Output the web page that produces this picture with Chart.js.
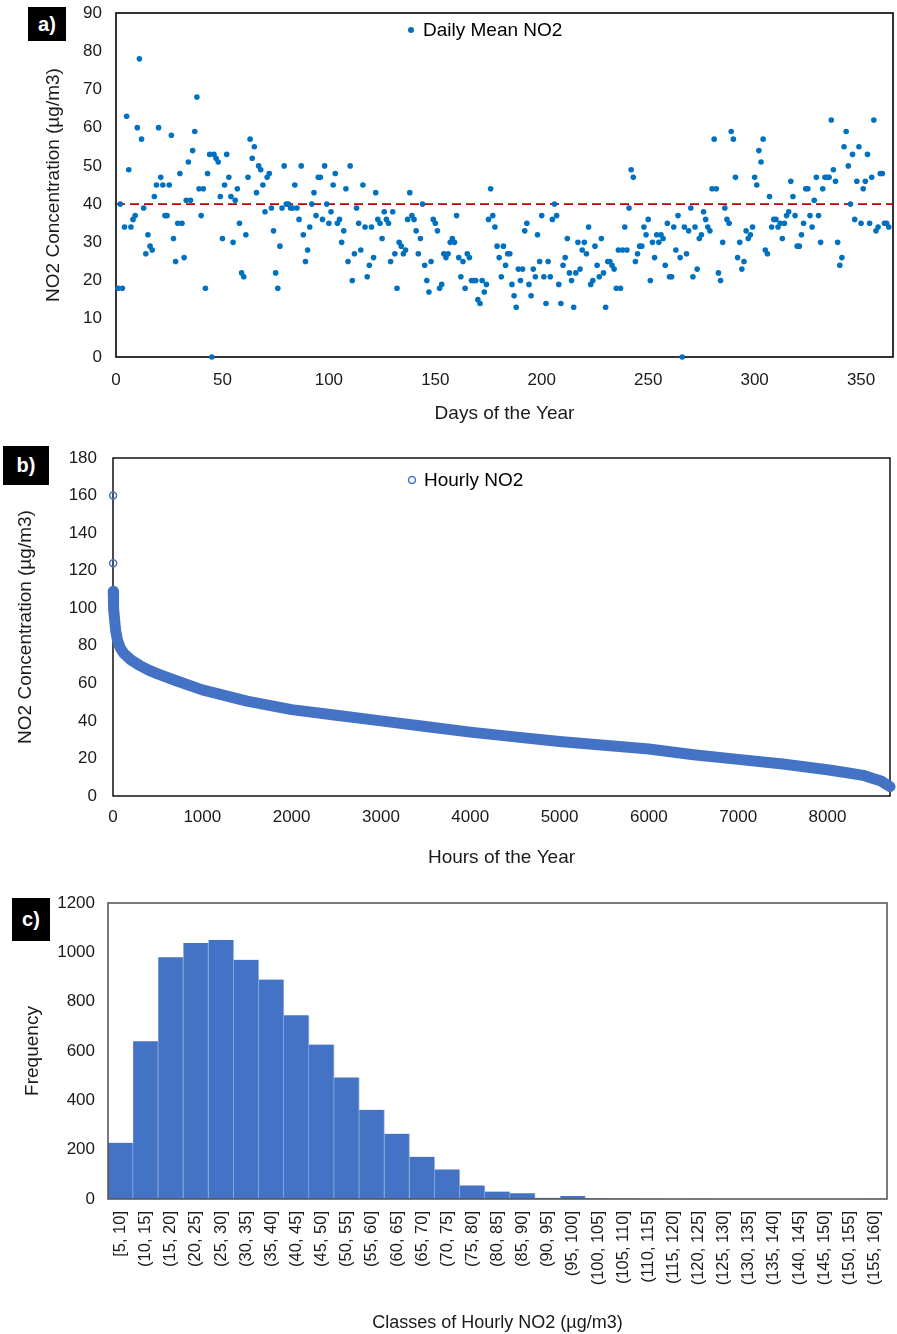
<!DOCTYPE html>
<html>
<head>
<meta charset="utf-8">
<script src="https://cdn.jsdelivr.net/npm/chart.js@4.4.0/dist/chart.umd.min.js"></script>
<style>
  html, body { margin: 0; padding: 0; background: #fff; }
  body { width: 897px; height: 1334px; position: relative; overflow: hidden; }
  .panel { position: absolute; left: 0; width: 897px; }
  .tag { position: absolute; background: #000; color: #fff; font: bold 20px 'Liberation Sans', Arial, sans-serif;
         display: flex; align-items: center; justify-content: center; }
</style>
</head>
<body>
<div class="panel" style="top:0;height:425px"><canvas id="chart-daily" width="897" height="425"></canvas></div>
<div class="panel" style="top:440px;height:429px"><canvas id="chart-hourly" width="897" height="429"></canvas></div>
<div class="panel" style="top:880px;height:454px"><canvas id="chart-hist" width="897" height="454"></canvas></div>
<div class="tag" style="left:28px;top:7px;width:38px;height:34px">a)</div>
<div class="tag" style="left:3px;top:446px;width:46px;height:39px">b)</div>
<div class="tag" style="left:12px;top:898px;width:38px;height:43px">c)</div>

<script>
// a) daily means, one value per day of the year
const dailyMeanNO2 = [
  18, 40, 18, 34, 63, 49, 34, 36, 37, 60, 78, 57, 39, 27, 32, 29, 28, 42, 45, 60,
  47, 45, 37, 37, 45, 58, 31, 25, 35, 48, 35, 26, 41, 51, 41, 54, 59, 68, 44, 37,
  44, 18, 48, 53, 0, 53, 52, 51, 42, 31, 45, 53, 47, 42, 30, 41, 44, 35, 22,
  21, 32, 47, 57, 52, 55, 43, 50, 49, 45, 38, 47, 48, 39, 33, 22, 18, 29, 39, 50,
  40, 40, 39, 39, 45, 39, 36, 50, 32, 25, 28, 34, 40, 43, 37, 47, 47, 36, 50, 40,
  35, 38, 45, 48, 35, 36, 30, 33, 44, 25, 50, 20, 27, 39, 35, 28, 45, 34, 21, 24,
  34, 26, 43,
  36, 35, 31, 38, 36, 35, 25, 38, 27, 18, 30, 29, 27, 28, 36, 43, 37, 36, 33, 27,
  31, 40, 24, 20, 17, 25, 36, 35, 33, 18, 19, 27, 26, 27, 30, 31, 30, 37, 26, 21,
  25, 18, 27, 26, 20, 20, 20, 15, 14, 20, 17, 19, 36, 44, 37, 34, 29, 26, 21,
  29, 24, 27, 27, 19, 16, 13, 23, 20, 23, 33, 35, 19, 16, 23, 21, 32, 25, 37, 21,
  14, 25, 21, 36, 40, 37, 19, 14, 24, 26, 31, 22, 20, 13, 22, 30, 23, 28, 30, 27,
  34, 19, 20, 29, 24, 21, 31, 22, 13, 25, 25, 24, 23, 18, 28, 18, 28, 34, 28, 39,
  49, 47,
  25, 27, 29, 29, 34, 32, 36, 20, 30, 26, 32, 30, 32, 31, 24, 35, 21, 21, 34, 28,
  37, 26, 0, 34, 27, 33, 39, 21, 34, 23, 31, 32, 38, 36, 34, 33, 44, 57, 44, 22,
  20, 30, 39, 36, 35, 59, 57, 47, 26, 30, 23, 25, 33, 31, 32, 34, 47, 45, 54, 51,
  57,
  28, 27, 42, 34, 36, 36, 34, 35, 31, 35, 37, 38, 46, 42, 37, 29, 29, 32, 35, 44,
  44, 37, 34, 41, 47, 37, 30, 44, 47, 47, 47, 62, 49, 46, 30, 24, 26, 55, 59, 50,
  40, 53, 36, 46, 55, 35, 44, 46, 53, 35, 47, 62, 33, 34, 48, 48, 35, 35, 34
];
const dayRange = [0, 365];
const dayTicks = [0, 50, 100, 150, 200, 250, 300, 350];
const limitValue = 40;

// b) hourly values sorted high to low (duration curve)
const hourIndex = [1, 2, 3, 4, 5, 10, 20, 30, 50, 80, 120, 200, 300, 400, 500, 700, 1000,
  1500, 2000, 2500, 3000, 3500, 4000, 4500, 5000, 5500, 6000, 6500, 7000, 7500, 8000,
  8200, 8400, 8500, 8600, 8650, 8700];
const hourlyNO2 = [160, 124, 109, 107, 105, 100, 93, 88, 83, 79, 76, 72.5, 69.5, 67, 65, 61.5, 56.5,
  50.5, 46, 43, 40, 37, 34, 31.5, 29, 27, 25, 22, 19.5, 17, 14,
  12.5, 11, 9.5, 8, 6.5, 5];
const hourRange = [0, 8700];
const hourTicks = [0, 1000, 2000, 3000, 4000, 5000, 6000, 7000, 8000];

// c) frequency of hourly values per class
const classLabels = ['[5, 10]', '(10, 15]', '(15, 20]', '(20, 25]', '(25, 30]', '(30, 35]', '(35, 40]',
  '(40, 45]', '(45, 50]', '(50, 55]', '(55, 60]', '(60, 65]', '(65, 70]', '(70, 75]', '(75, 80]',
  '(80, 85]', '(85, 90]', '(90, 95]', '(95, 100]', '(100, 105]', '(105, 110]', '(110, 115]',
  '(115, 120]', '(120, 125]', '(125, 130]', '(130, 135]', '(135, 140]', '(140, 145]',
  '(145, 150]', '(150, 155]', '(155, 160]'];
const classFrequency = [228, 640, 980, 1038, 1050, 970, 890, 745, 626, 493, 362, 265, 171, 120, 55,
  30, 23, 5, 12, 3, 2, 1, 0, 1, 0, 0, 0, 0, 0, 0, 1];

Chart.defaults.font.family = "'Liberation Sans', Arial, sans-serif";
Chart.defaults.color = '#1a1a1a';

const framePlugin = {
  id: 'frame',
  beforeDatasetsDraw(chart, args, opts) {
    if (!opts.onTop) drawFrame(chart, opts);
  },
  afterDatasetsDraw(chart, args, opts) {
    if (opts.onTop) drawFrame(chart, opts);
  }
};

function drawFrame(chart, opts) {
  const { ctx, chartArea: a } = chart;
  ctx.save();
  ctx.strokeStyle = opts.color;
  ctx.lineWidth = opts.width;
  ctx.strokeRect(a.left, a.top, a.right - a.left, a.bottom - a.top);
  ctx.restore();
}

// legend entry for the first dataset, drawn inside the plot like Excel does
const insideLegend = {
  id: 'insideLegend',
  afterDatasetsDraw(chart, args, opts) {
    if (!opts.x) return;
    const ds = chart.data.datasets[0];
    const ctx = chart.ctx;
    ctx.save();
    ctx.beginPath();
    ctx.arc(opts.x, opts.y, opts.radius, 0, Math.PI * 2);
    if (opts.open) {
      ctx.lineWidth = 1.5;
      ctx.strokeStyle = ds.pointBorderColor;
      ctx.stroke();
    } else {
      ctx.fillStyle = ds.backgroundColor;
      ctx.fill();
    }
    ctx.fillStyle = '#000';
    ctx.font = "19px 'Liberation Sans', Arial, sans-serif";
    ctx.textBaseline = 'middle';
    ctx.fillText(ds.label, opts.x + 12, opts.y + 1);
    ctx.restore();
  }
};

const noGrid = { display: false, drawTicks: false };
const plainNumber = v => String(v);

// pin the plot area: no extra room for overhanging tick labels
function fixWidth(w) {
  return s => { s.width = w; s.paddingTop = 0; s.paddingBottom = 0; };
}
function fixHeight(h) {
  return s => { s.height = h; s.paddingLeft = 0; s.paddingRight = 0; };
}

function createDailyChart() {
  const ctx = document.getElementById('chart-daily');
  new Chart(ctx, {
    type: 'scatter',
    data: {
      datasets: [{
        label: 'Daily Mean NO2',
        data: dailyMeanNO2.map((v, i) => ({ x: i + 1, y: v })),
        backgroundColor: '#0070C0',
        borderColor: '#0070C0',
        pointRadius: 2.8,
        pointBorderWidth: 0,
        clip: false
      }, {
        label: 'limit',
        data: dayRange.map(d => ({ x: d, y: limitValue })),
        showLine: true,
        borderColor: '#C00000',
        borderWidth: 1.6,
        borderDash: [9, 5],
        pointRadius: 0
      }]
    },
    options: {
      responsive: false,
      animation: false,
      layout: { padding: { left: 38, top: 13, right: 4, bottom: 0 } },
      scales: {
        x: {
          type: 'linear', min: dayRange[0], max: dayRange[1],
          afterBuildTicks: s => { s.ticks = dayTicks.map(v => ({ value: v })); },
          afterFit: fixHeight(68),
          grid: noGrid, border: { display: false },
          ticks: { padding: 13, font: { size: 17 }, callback: plainNumber },
          title: { display: true, text: 'Days of the Year', font: { size: 19 }, color: '#1a1a1a', padding: { top: 4, bottom: 0 } }
        },
        y: {
          min: 0, max: 90,
          afterFit: fixWidth(78),
          grid: noGrid, border: { display: false },
          ticks: { stepSize: 10, padding: 14, font: { size: 17 }, callback: plainNumber },
          title: { display: true, text: 'NO2 Concentration (µg/m3)', font: { size: 19 }, color: '#1a1a1a', padding: { top: 4, bottom: 0 } }
        }
      },
      plugins: {
        legend: { display: false },
        tooltip: { enabled: false },
        frame: { color: '#000', width: 1.6 },
        insideLegend: { x: 411, y: 30, radius: 3, open: false }
      }
    },
    plugins: [framePlugin, insideLegend]
  });
}

function createHourlyChart() {
  const ctx = document.getElementById('chart-hourly');
  const points = hourIndex.map((h, i) => ({ x: h, y: hourlyNO2[i] }));
  new Chart(ctx, {
    type: 'scatter',
    data: {
      datasets: [{
        label: 'Hourly NO2',
        data: points,
        pointRadius: 3.5,
        pointBorderWidth: 1.5,
        pointBackgroundColor: 'rgba(0,0,0,0)',
        pointBorderColor: '#4472C4',
        clip: false
      }, {
        label: 'band',
        data: points.slice(2),
        showLine: true,
        borderColor: '#4472C4',
        borderWidth: 11,
        borderCapStyle: 'round',
        borderJoinStyle: 'round',
        pointRadius: 0,
        clip: false
      }]
    },
    options: {
      responsive: false,
      animation: false,
      layout: { padding: { left: 10, top: 18, right: 7, bottom: 0 } },
      scales: {
        x: {
          type: 'linear', min: hourRange[0], max: hourRange[1],
          afterBuildTicks: s => { s.ticks = hourTicks.map(v => ({ value: v })); },
          afterFit: fixHeight(73),
          grid: noGrid, border: { display: false },
          ticks: { padding: 11, font: { size: 17 }, callback: plainNumber },
          title: { display: true, text: 'Hours of the Year', font: { size: 19 }, color: '#1a1a1a', padding: { top: 4, bottom: 0 } }
        },
        y: {
          min: 0, max: 180,
          afterFit: fixWidth(103),
          grid: noGrid, border: { display: false },
          ticks: { stepSize: 20, padding: 16, font: { size: 17 }, callback: plainNumber },
          title: { display: true, text: 'NO2 Concentration (µg/m3)', font: { size: 19 }, color: '#1a1a1a', padding: { top: 4, bottom: 0 } }
        }
      },
      plugins: {
        legend: { display: false },
        tooltip: { enabled: false },
        frame: { color: '#000', width: 1.4 },
        insideLegend: { x: 412, y: 40, radius: 3.5, open: true }
      }
    },
    plugins: [framePlugin, insideLegend]
  });
}

function createHistogram() {
  const ctx = document.getElementById('chart-hist');
  new Chart(ctx, {
    type: 'bar',
    data: {
      labels: classLabels,
      datasets: [{
        label: 'Frequency',
        data: classFrequency,
        backgroundColor: '#4472C4',
        borderColor: '#9AB2E0',
        borderWidth: { top: 0, right: 1, bottom: 0, left: 0 },
        categoryPercentage: 1,
        barPercentage: 1
      }]
    },
    options: {
      responsive: false,
      animation: false,
      layout: { padding: { left: 17, top: 23, right: 10, bottom: 0 } },
      scales: {
        x: {
          afterFit: fixHeight(135),
          grid: noGrid, border: { display: false },
          ticks: { autoSkip: false, minRotation: 90, maxRotation: 90, padding: 12, font: { size: 16.5 } },
          title: { display: true, text: 'Classes of Hourly NO2 (µg/m3)', font: { size: 18 }, color: '#1a1a1a', padding: { top: 4, bottom: 0 } }
        },
        y: {
          min: 0, max: 1200,
          afterFit: fixWidth(91),
          grid: noGrid, border: { display: false },
          ticks: { stepSize: 200, padding: 13, font: { size: 17 }, callback: plainNumber },
          title: { display: true, text: 'Frequency', font: { size: 19 }, color: '#1a1a1a', padding: { top: 4, bottom: 0 } }
        }
      },
      plugins: {
        legend: { display: false },
        tooltip: { enabled: false },
        frame: { color: '#595959', width: 1.6, onTop: true }
      }
    },
    plugins: [framePlugin]
  });
}

createDailyChart();
createHourlyChart();
createHistogram();
</script>
</body>
</html>
